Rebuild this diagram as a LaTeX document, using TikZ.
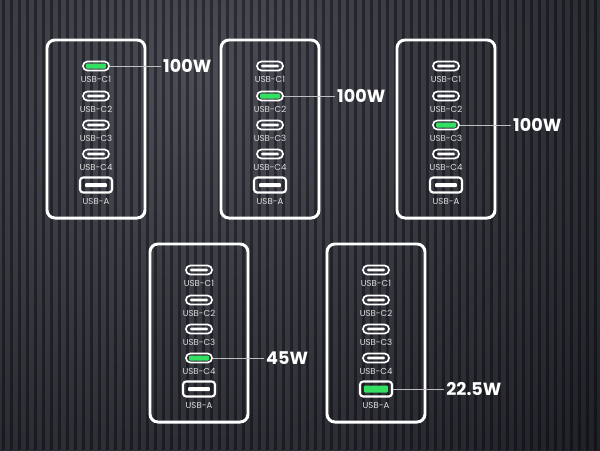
\documentclass[tikz,border=0pt]{standalone}
\usepackage{fontspec}
\setmainfont{Poppins}
\usepackage{tikz}
\usetikzlibrary{positioning, calc}

\definecolor{bglight}{RGB}{76,78,87}
\definecolor{bgdark}{RGB}{28,29,36}
\definecolor{portgreen}{RGB}{52,224,98}
\definecolor{leadgray}{RGB}{190,190,195}

\begin{document}
\begin{tikzpicture}[x=0.025cm, y=-0.025cm,
    panel/.style={draw=white, line width=2.1pt, rounded corners=0.2cm,
                  minimum width=2.45cm, minimum height=4.45cm, inner sep=0pt},
    cport/.style={draw=white, line width=1.2pt, rounded corners=0.11cm,
                  minimum width=0.65cm, minimum height=0.225cm, inner sep=0pt},
    aport/.style={draw=white, line width=1.5pt, rounded corners=0.08cm,
                  minimum width=0.8cm, minimum height=0.375cm, inner sep=0pt},
    portlabel/.style={text=white!88!black, font=\fontsize{6.1}{7}\selectfont, inner sep=0pt},
    watt/.style={text=white, font=\fontsize{12.5}{13}\selectfont\bfseries, inner sep=1.5pt},
    leader/.style={draw=leadgray, line width=0.6pt}]

    % background with ribs
    \useasboundingbox (0,0) rectangle (600,450);
    \begin{scope}
        \clip (0,0) rectangle (600,450);
        \fill[bgdark] (0,0) rectangle (600,450);
        \shade[inner color=bglight, outer color=bgdark] (200,80) circle (580);
        \foreach \i in {0,...,75}
            \fill[black, opacity=0.4] (8*\i+2,0) rectangle (8*\i+4.5,450);
    \end{scope}

    % five chargers
    \foreach \pn/\cx/\ty/\on/\wt in {1/96/40/1/100W, 2/270/40/2/100W, 3/446/40/3/100W,
                                      4/199/244/4/45W, 5/376/244/5/22.5W} {
        \node[panel] (box\pn) at (\cx,\ty+89) {};
        % type-c ports
        \foreach \k/\dy/\lab in {1/26/USB-C1, 2/56/USB-C2, 3/85/USB-C3, 4/114/USB-C4} {
            \ifnum\k=\on
                \def\inc{portgreen}\def\inw{0.5cm}\def\inh{0.125cm}
            \else
                \def\inc{white}\def\inw{0.45cm}\def\inh{0.07cm}
            \fi
            \node[cport] (port\pn\k) at (\cx,\ty+\dy) {};
            \node[fill=\inc, rounded corners=0.03cm, inner sep=0pt,
                  minimum width=\inw, minimum height=\inh] (slot\pn\k) at (port\pn\k) {};
            \node[portlabel] (lab\pn\k) at (\cx,\ty+\dy+13) {\lab};
        }
        % type-a port
        \ifnum5=\on
            \def\inc{portgreen}\def\inw{0.6cm}\def\inh{0.175cm}
        \else
            \def\inc{white}\def\inw{0.54cm}\def\inh{0.1cm}
        \fi
        \node[aport] (port\pn5) at (\cx,\ty+145) {};
        \node[fill=\inc, rounded corners=0.02cm, inner sep=0pt,
              minimum width=\inw, minimum height=\inh] (slot\pn5) at (port\pn5) {};
        \node[portlabel] (lab\pn5) at (\cx,\ty+161) {USB-A};
        % power rating
        \node[watt, anchor=west] (watt\pn) at ($(port\pn\on.east)+(51,0)$) {\wt};
        \draw[leader] (port\pn\on.east) -- (watt\pn.west);
    }
\end{tikzpicture}
\end{document}
